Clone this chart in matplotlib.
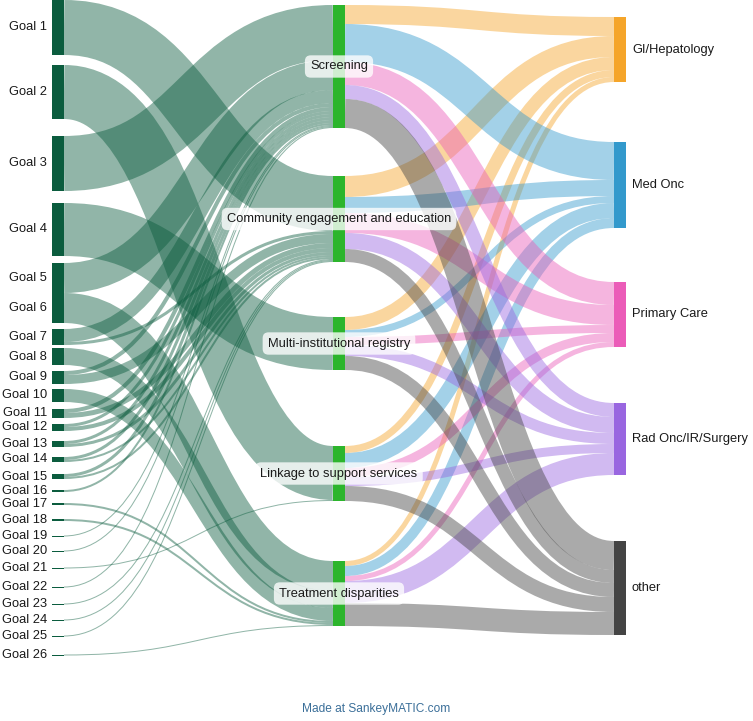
import matplotlib
matplotlib.use("Agg")
import matplotlib.pyplot as plt
from matplotlib.path import Path
from matplotlib.patches import PathPatch, Rectangle

# ---- data -------------------------------------------------------------
goals = ["Goal %d" % i for i in range(1, 27)]
programs = ["Screening", "Community engagement and education",
            "Multi-institutional registry", "Linkage to support services",
            "Treatment disparities"]
specialties = ["GI/Hepatology", "Med Onc", "Primary Care",
               "Rad Onc/IR/Surgery", "other"]

# (goal number, amount) flowing into each program
to_screening = [(3, 55), (5, 30), (7, 13), (9, 4), (11, 4), (12, 3), (13, 3),
                (14, 3), (15, 3), (16, 2), (19, 1), (20, 1), (22, 1)]
to_community = [(1, 55), (7, 3), (9, 9), (11, 5), (12, 4), (13, 3), (14, 2),
                (15, 2), (23, 1), (24, 1), (25, 1)]
to_registry = [(4, 53)]
to_linkage = [(2, 54), (21, 1)]
to_disparities = [(6, 30), (8, 17), (10, 13), (17, 2), (18, 2), (26, 1)]

# program -> specialty, one value per program (same order as programs)
to_gi = [19, 21, 13, 7, 5]
to_medonc = [38, 16, 7, 15, 10]
to_primary = [23, 20, 8, 9, 5]
to_radonc = [14, 16, 11, 9, 22]
to_other = [29, 13, 14, 15, 23]

# ---- layout / style ---------------------------------------------------
W, H = 753, 721
NODE_W = 12
COL_X = [52, 333, 614]
left_gap = [0, 10, 17, 12, 7, 0, 6, 3, 6, 5, 7, 6, 10, 10, 12, 11, 11, 14,
            14.5, 14, 16, 18, 16, 15, 15, 18]
mid_gap = [5, 48, 55, 76, 60]
right_gap = [17, 60, 54, 56, 66]

GOAL_COLOR = "#0b5c3e"
PROGRAM_COLOR = "#2cb52c"
SPECIALTY_COLORS = ["#f5a52a", "#3399cc", "#eb5cb8", "#9966e0", "#444444"]
FLOW_ALPHA = 0.45
FONT = ["Liberation Sans", "DejaVu Sans"]
FS = 9.3


def stack(values, gaps):
    tops = []
    y = 0.0
    for value, gap in zip(values, gaps):
        y += gap
        tops.append(y)
        y += value
    return tops


# links: (src column, src index, dst column, dst index, value, color)
links = []
for p, incoming in enumerate([to_screening, to_community, to_registry,
                              to_linkage, to_disparities]):
    for goal, value in incoming:
        links.append((0, goal - 1, 1, p, value, GOAL_COLOR))
for s, row in enumerate([to_gi, to_medonc, to_primary, to_radonc, to_other]):
    for p, value in enumerate(row):
        links.append((1, p, 2, s, value, SPECIALTY_COLORS[s]))

sizes = [[0.0] * len(goals), [0.0] * len(programs), [0.0] * len(specialties)]
for sc, si, dc, di, value, _ in links:
    if sc == 0:
        sizes[0][si] += value
    sizes[dc][di] += value
tops = [stack(sizes[0], left_gap), stack(sizes[1], mid_gap),
        stack(sizes[2], right_gap)]

# offsets of each link inside its source and target node (d3-sankey style)
src_off, dst_off = {}, {}
for col in range(2):
    for idx in range(len(sizes[col])):
        out = [k for k, l in enumerate(links) if l[0] == col and l[1] == idx]
        out.sort(key=lambda k: tops[links[k][2]][links[k][3]])
        y = 0.0
        for k in out:
            src_off[k] = y
            y += links[k][4]
for col in range(1, 3):
    for idx in range(len(sizes[col])):
        inc = [k for k, l in enumerate(links) if l[2] == col and l[3] == idx]
        inc.sort(key=lambda k: tops[links[k][0]][links[k][1]])
        y = 0.0
        for k in inc:
            dst_off[k] = y
            y += links[k][4]

figure = plt.figure(figsize=(W / 100, H / 100), dpi=100)
axis = figure.add_axes([0, 0, 1, 1])
axis.set_xlim(0, W)
axis.set_ylim(H, 0)
axis.axis("off")

px_to_pt = 72.0 / figure.dpi
for k, (sc, si, dc, di, value, color) in enumerate(links):
    x0 = COL_X[sc] + NODE_W
    x1 = COL_X[dc]
    y0 = tops[sc][si] + src_off[k] + value / 2
    y1 = tops[dc][di] + dst_off[k] + value / 2
    xm = (x0 + x1) / 2
    path = Path([(x0, y0), (xm, y0), (xm, y1), (x1, y1)],
                [Path.MOVETO, Path.CURVE4, Path.CURVE4, Path.CURVE4])
    axis.add_patch(PathPatch(path, fill=False, edgecolor=color,
                             alpha=FLOW_ALPHA, lw=value * px_to_pt,
                             capstyle="butt", zorder=1))

# nodes
node_colors = [[GOAL_COLOR] * len(goals), [PROGRAM_COLOR] * len(programs),
               SPECIALTY_COLORS]
for col in range(3):
    for idx, size in enumerate(sizes[col]):
        axis.add_patch(Rectangle((COL_X[col], tops[col][idx]), NODE_W, size,
                                 facecolor=node_colors[col][idx],
                                 edgecolor="none", zorder=2))

# labels
for idx, name in enumerate(goals):
    axis.text(COL_X[0] - 5, tops[0][idx] + sizes[0][idx] / 2, name,
              ha="right", va="center", fontsize=FS, family=FONT,
              color="#1a1a1a", zorder=3)
for idx, name in enumerate(programs):
    axis.text(COL_X[1] + NODE_W / 2, tops[1][idx] + sizes[1][idx] / 2, name,
              ha="center", va="center", fontsize=FS, family=FONT,
              color="#1a1a1a", zorder=3,
              bbox=dict(boxstyle="round,pad=0.4,rounding_size=0.45",
                        facecolor="white", edgecolor="none", alpha=0.78))
for idx, name in enumerate(specialties):
    axis.text(COL_X[2] + NODE_W + 6, tops[2][idx] + sizes[2][idx] / 2, name,
              ha="left", va="center", fontsize=FS, family=FONT,
              color="#1a1a1a", zorder=3)

axis.text(W / 2, 709, "Made at SankeyMATIC.com", ha="center", va="center",
          fontsize=8.6, family=FONT, color="#3b6f99")

figure.savefig("out.png", dpi=100)
